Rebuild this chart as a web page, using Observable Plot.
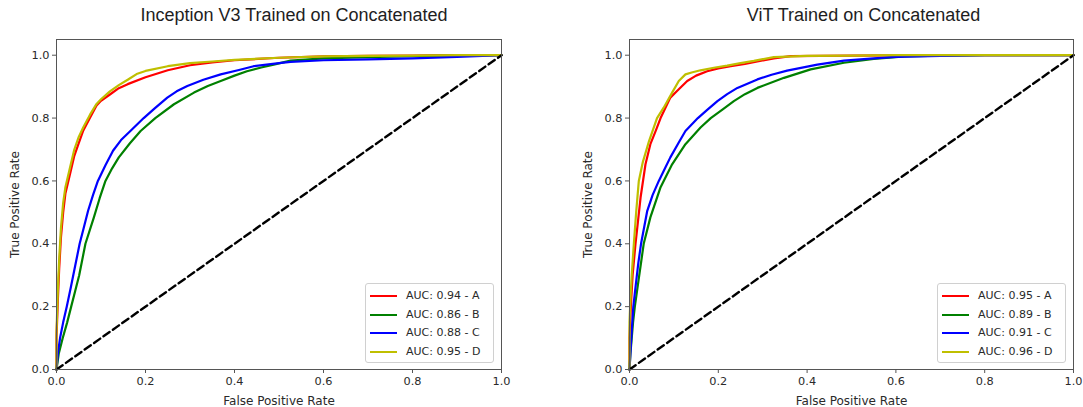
<!DOCTYPE html>
<html>
<head>
<meta charset="utf-8">
<script src="https://cdn.jsdelivr.net/npm/d3@7"></script>
<script src="https://cdn.jsdelivr.net/npm/@observablehq/plot@0.6"></script>
<style>
  html, body { margin: 0; padding: 0; background: #fff; }
  #wrap { position: relative; width: 1083px; height: 407px; overflow: hidden; }
  .panel { position: absolute; top: 0; }
  .legend { position: absolute; box-sizing: border-box; border: 1px solid #d0d0d0; border-radius: 3px;
            background: rgba(255,255,255,0.85); font-family: "DejaVu Sans", sans-serif; font-size: 11px; color: #2a2a2a; }
  .row { position: absolute; left: 0; height: 14px; line-height: 14px; white-space: nowrap; }
  .swatch { position: absolute; left: 4px; top: 6px; width: 27px; height: 2px; }
  .lbl { position: absolute; left: 40px; top: 0; }
</style>
</head>
<body>
<div id="wrap"></div>
<script>
// ---------- data ----------
const panelTitles = ["Inception V3 Trained on Concatenated", "ViT Trained on Concatenated"];
const seriesNames = ["A", "B", "C", "D"];
const seriesColors = ["#ff0000", "#008000", "#0000ff", "#bfbf00"];
const aucLeft = [0.94, 0.86, 0.88, 0.95];
const aucRight = [0.95, 0.89, 0.91, 0.96];
const axisTicks = [0, 0.2, 0.4, 0.6, 0.8, 1.0];
const chanceFpr = [0, 1];
const chanceTpr = [0, 1];

// Inception V3 panel
const incA_fpr = [0, 0, 0.003, 0.006, 0.01, 0.015, 0.02, 0.03, 0.04, 0.05, 0.06, 0.075, 0.09, 0.1, 0.12, 0.14, 0.16, 0.2, 0.25, 0.3, 0.35, 0.4, 0.5, 0.6, 0.7, 0.8, 0.9, 1.0];
const incA_tpr = [0, 0.1, 0.22, 0.32, 0.42, 0.5, 0.56, 0.62, 0.68, 0.72, 0.76, 0.8, 0.84, 0.855, 0.875, 0.895, 0.908, 0.93, 0.952, 0.968, 0.977, 0.984, 0.992, 0.996, 0.998, 0.999, 1.0, 1.0];
const incB_fpr = [0, 0.005, 0.014, 0.024, 0.033, 0.042, 0.051, 0.058, 0.065, 0.084, 0.097, 0.11, 0.125, 0.14, 0.165, 0.189, 0.222, 0.264, 0.309, 0.34, 0.369, 0.4, 0.428, 0.46, 0.488, 0.526, 0.6, 0.7, 0.8, 0.9, 1.0];
const incB_tpr = [0, 0.05, 0.1, 0.15, 0.2, 0.25, 0.3, 0.35, 0.4, 0.484, 0.545, 0.6, 0.64, 0.675, 0.72, 0.759, 0.8, 0.844, 0.881, 0.902, 0.918, 0.935, 0.949, 0.961, 0.97, 0.983, 0.99, 0.994, 0.997, 0.999, 1.0];
const incC_fpr = [0, 0.003, 0.008, 0.015, 0.023, 0.032, 0.042, 0.052, 0.062, 0.071, 0.082, 0.093, 0.11, 0.127, 0.145, 0.166, 0.196, 0.22, 0.249, 0.27, 0.294, 0.33, 0.369, 0.41, 0.443, 0.5, 0.526, 0.6, 0.7, 0.8, 0.9, 1.0];
const incC_tpr = [0, 0.05, 0.1, 0.15, 0.2, 0.26, 0.33, 0.4, 0.455, 0.505, 0.555, 0.6, 0.65, 0.696, 0.73, 0.759, 0.8, 0.83, 0.865, 0.885, 0.902, 0.922, 0.939, 0.953, 0.965, 0.975, 0.979, 0.984, 0.987, 0.99, 0.995, 1.0];
const incD_fpr = [0, 0, 0.003, 0.006, 0.01, 0.015, 0.02, 0.03, 0.04, 0.05, 0.06, 0.075, 0.09, 0.1, 0.12, 0.14, 0.16, 0.18, 0.2, 0.25, 0.3, 0.35, 0.4, 0.5, 0.6, 0.7, 0.8, 0.9, 1.0];
const incD_tpr = [0, 0.12, 0.25, 0.35, 0.45, 0.53, 0.58, 0.64, 0.7, 0.74, 0.77, 0.81, 0.845, 0.86, 0.885, 0.905, 0.922, 0.94, 0.95, 0.965, 0.975, 0.98, 0.985, 0.992, 0.996, 0.998, 0.999, 1.0, 1.0];

// ViT panel
const vitA_fpr = [0, 0, 0.003, 0.007, 0.0135, 0.025, 0.036, 0.047, 0.059, 0.07, 0.081, 0.092, 0.107, 0.13, 0.15, 0.175, 0.2, 0.228, 0.26, 0.288, 0.325, 0.363, 0.5, 0.7, 1.0];
const vitA_tpr = [0, 0.1, 0.2, 0.3, 0.4, 0.548, 0.653, 0.717, 0.759, 0.8, 0.833, 0.865, 0.886, 0.918, 0.935, 0.949, 0.958, 0.965, 0.972, 0.98, 0.99, 0.997, 0.999, 1.0, 1.0];
const vitB_fpr = [0, 0.002, 0.005, 0.008, 0.012, 0.017, 0.022, 0.027, 0.032, 0.047, 0.07, 0.096, 0.126, 0.16, 0.183, 0.21, 0.235, 0.26, 0.288, 0.348, 0.408, 0.483, 0.55, 0.62, 0.7, 0.8, 1.0];
const vitB_tpr = [0, 0.05, 0.1, 0.15, 0.2, 0.25, 0.3, 0.35, 0.4, 0.484, 0.58, 0.653, 0.717, 0.77, 0.8, 0.828, 0.854, 0.876, 0.896, 0.928, 0.955, 0.976, 0.988, 0.996, 0.999, 1.0, 1.0];
const vitC_fpr = [0, 0.002, 0.004, 0.0086, 0.015, 0.02, 0.026, 0.04, 0.052, 0.066, 0.08, 0.092, 0.11, 0.126, 0.154, 0.175, 0.198, 0.22, 0.243, 0.288, 0.32, 0.355, 0.423, 0.483, 0.55, 0.6, 0.7, 0.8, 1.0];
const vitC_tpr = [0, 0.05, 0.1, 0.2, 0.28, 0.34, 0.4, 0.505, 0.555, 0.6, 0.64, 0.675, 0.72, 0.759, 0.8, 0.826, 0.854, 0.876, 0.896, 0.923, 0.938, 0.951, 0.97, 0.983, 0.99, 0.995, 0.998, 1.0, 1.0];
const vitD_fpr = [0, 0, 0.002, 0.005, 0.0098, 0.015, 0.021, 0.03, 0.044, 0.062, 0.077, 0.096, 0.111, 0.126, 0.14, 0.16, 0.19, 0.22, 0.25, 0.28, 0.325, 0.4, 0.5, 0.6, 0.8, 1.0];
const vitD_tpr = [0, 0.15, 0.22, 0.3, 0.4, 0.5, 0.6, 0.66, 0.727, 0.8, 0.833, 0.881, 0.918, 0.939, 0.945, 0.952, 0.96, 0.967, 0.975, 0.982, 0.994, 0.998, 0.999, 1.0, 1.0, 1.0];

// ---------- build ----------
function toRows(fprs, tprs) {
  const rows = [];
  fprs.forEach((f, i) => f.forEach((x, j) => rows.push({series: seriesNames[i], fpr: x, tpr: tprs[i][j]})));
  return rows;
}
const leftRows = toRows([incA_fpr, incB_fpr, incC_fpr, incD_fpr], [incA_tpr, incB_tpr, incC_tpr, incD_tpr]);
const rightRows = toRows([vitA_fpr, vitB_fpr, vitC_fpr, vitD_fpr], [vitA_tpr, vitB_tpr, vitC_tpr, vitD_tpr]);
const chance = chanceFpr.map((f, i) => ({fpr: f, tpr: chanceTpr[i]}));
const fmt = d3.format(".1f");

function makePanel(rows, title, opts) {
  return Plot.plot({
    width: opts.width,
    height: 407,
    marginTop: 39,
    marginBottom: 38,
    marginLeft: opts.marginLeft,
    marginRight: opts.marginRight,
    style: {fontFamily: "DejaVu Sans, sans-serif", fontSize: "11px", color: "#2a2a2a", background: "#fff", overflow: "visible"},
    x: {domain: [0, 1]},
    y: {domain: [0, 1.05]},
    color: {domain: seriesNames, range: seriesColors},
    marks: [
      Plot.line(rows, {x: "fpr", y: "tpr", z: "series", stroke: "series", strokeWidth: 2.2, strokeLinejoin: "round"}),
      Plot.line(chance, {x: "fpr", y: "tpr", stroke: "#000", strokeWidth: 2.4, strokeDasharray: "7.5,4"}),
      Plot.frame({stroke: "#555", strokeWidth: 1}),
      Plot.axisX({ticks: axisTicks, tickFormat: fmt, tickSize: 4, tickPadding: 3, fontSize: 11.3, stroke: "#555",
                  label: "False Positive Rate", labelAnchor: "center", labelArrow: "none", labelOffset: 35}),
      Plot.axisY({ticks: axisTicks, tickFormat: fmt, tickSize: 4, tickPadding: 3, fontSize: 11.3, stroke: "#555",
                  label: "True Positive Rate", labelAnchor: "center", labelArrow: "none", labelOffset: 46}),
      Plot.text([title], {frameAnchor: "top", lineAnchor: "middle", dy: -24, dx: opts.titleDx, fontSize: 18, fontFamily: "Liberation Sans, Arial, sans-serif", fill: "#1e1e1e"})
    ]
  });
}

const wrap = document.getElementById("wrap");
const panels = [
  {rows: leftRows, title: panelTitles[0], left: 0, width: 541, marginLeft: 56, marginRight: 40, titleDx: 15, auc: aucLeft},
  {rows: rightRows, title: panelTitles[1], left: 541, width: 542, marginLeft: 88, marginRight: 10, titleDx: 12, auc: aucRight}
];
panels.forEach(p => {
  const div = document.createElement("div");
  div.className = "panel";
  div.style.left = p.left + "px";
  const svg = makePanel(p.rows, p.title, p);
  svg.querySelectorAll("g[aria-label='y-axis label'] text, g[aria-label='x-axis label'] text").forEach(t => t.setAttribute("font-size", "12"));
  div.appendChild(svg);
  wrap.appendChild(div);

  // legend (lower right, inside the frame)
  const frameRight = p.left + p.width - p.marginRight;
  const leg = document.createElement("div");
  leg.className = "legend";
  leg.style.width = "129px";
  leg.style.height = "80px";
  leg.style.left = (frameRight - 7 - 129) + "px";
  leg.style.top = "283px";
  seriesNames.forEach((s, i) => {
    const row = document.createElement("div");
    row.className = "row";
    row.style.top = (5 + i * 18.7) + "px";
    const sw = document.createElement("span");
    sw.className = "swatch";
    sw.style.background = seriesColors[i];
    const lb = document.createElement("span");
    lb.className = "lbl";
    lb.textContent = `AUC: ${p.auc[i].toFixed(2)} - ${s}`;
    row.appendChild(sw); row.appendChild(lb);
    leg.appendChild(row);
  });
  wrap.appendChild(leg);
});
</script>
</body>
</html>
